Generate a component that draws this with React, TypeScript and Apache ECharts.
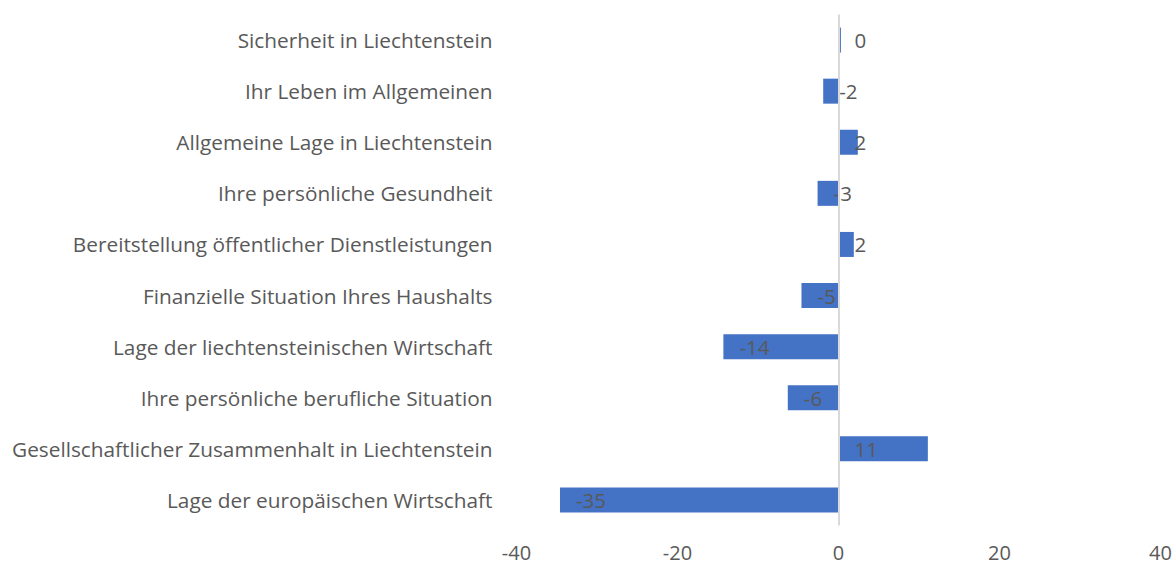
import React, { useEffect, useRef } from "react";
import * as echarts from "echarts";

const categories = [
  "Sicherheit in Liechtenstein",
  "Ihr Leben im Allgemeinen",
  "Allgemeine Lage in Liechtenstein",
  "Ihre persönliche Gesundheit",
  "Bereitstellung öffentlicher Dienstleistungen",
  "Finanzielle Situation Ihres Haushalts",
  "Lage der liechtensteinischen Wirtschaft",
  "Ihre persönliche berufliche Situation",
  "Gesellschaftlicher Zusammenhalt in Liechtenstein",
  "Lage der europäischen Wirtschaft",
];
const values = [0.3, -1.9, 2.4, -2.6, 1.9, -4.6, -14.3, -6.3, 11.1, -34.6];
const xTicks = [-40, -20, 0, 20, 40];

const FONT = "Open Sans";

export default function App() {
  const ref = useRef<HTMLDivElement>(null);
  useEffect(() => {
    if (!ref.current) return;
    const chart = echarts.init(ref.current, undefined, { renderer: "svg" });
    chart.setOption({
      animation: false,
      grid: { left: 516.5, right: 15.5, top: 14.5, bottom: 40.5, containLabel: false },
      xAxis: {
        type: "value",
        min: xTicks[0],
        max: xTicks[xTicks.length - 1],
        interval: 20,
        axisLine: { show: false },
        axisTick: { show: false },
        splitLine: { show: false },
        axisLabel: {
          color: "#595959",
          fontSize: 20,
          lineHeight: 20,
          fontFamily: FONT,
          margin: 16.5,
        },
      },
      yAxis: {
        type: "category",
        inverse: true,
        data: categories,
        axisLine: { show: false },
        axisTick: { show: false },
        axisLabel: { color: "#595959", fontSize: 20.8, fontFamily: FONT, margin: 24 },
      },
      series: [
        {
          type: "bar",
          data: values,
          barWidth: 25,
          itemStyle: { color: "#4472C4" },
          label: {
            show: true,
            position: "insideLeft",
            distance: 16,
            color: "#595959",
            fontSize: 20.5,
            fontFamily: FONT,
            formatter: (p: any) => String(Math.round(p.value) === 0 ? 0 : Math.round(p.value)),
          },
          markLine: {
            silent: true,
            symbol: "none",
            label: { show: false },
            lineStyle: { color: "#d9d9d9", width: 2, type: "solid" },
            data: [{ xAxis: 0 }],
          },
        },
      ],
    });
    return () => chart.dispose();
  }, []);
  return (
    <div
      ref={ref}
      style={{ position: "fixed", left: 0, top: 0, width: 1176, height: 566, background: "#fff" }}
    />
  );
}
